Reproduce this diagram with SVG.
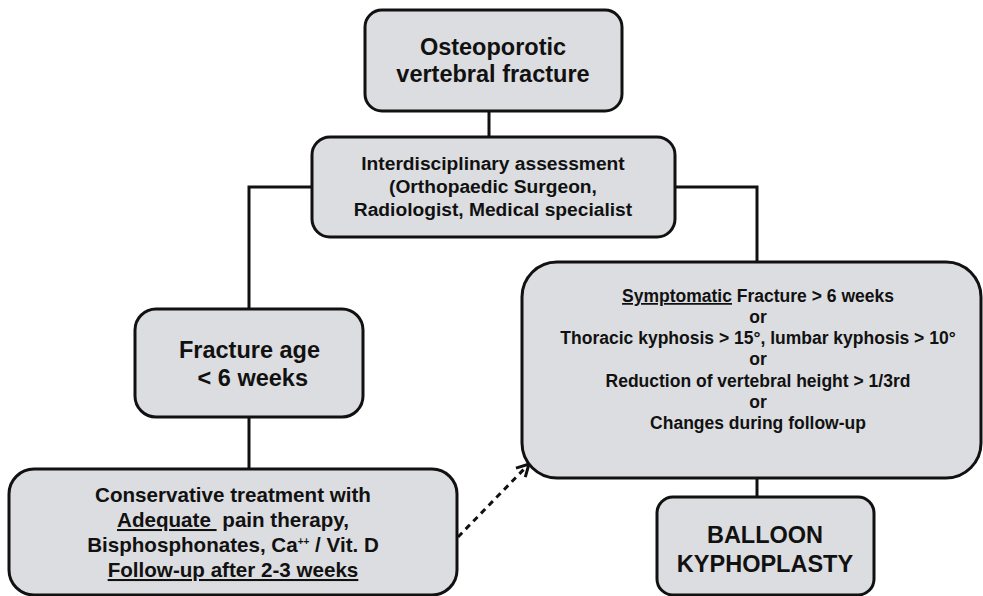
<svg xmlns="http://www.w3.org/2000/svg" width="983" height="596" viewBox="0 0 983 596">
<style>
.box{fill:#dcdde0;stroke:#111;stroke-width:3}
.t{font-family:"Liberation Sans",Arial,sans-serif;font-weight:bold;fill:#111;text-anchor:middle;white-space:pre}
.big{font-size:23.5px}
.mid{font-size:19.2px}
.med{font-size:20.6px}
.sm{font-size:17.5px}
.u{text-decoration:underline}
.c{fill:none;stroke:#111;stroke-width:3}
.d{fill:none;stroke:#111;stroke-width:3;stroke-dasharray:6 5}
</style>
<defs>
<marker id="open" markerWidth="16" markerHeight="16" refX="13" refY="8" orient="auto" markerUnits="userSpaceOnUse">
<path d="M1,1.5 L13,8 L1,14.5" fill="none" stroke="#111" stroke-width="3"/>
</marker>
</defs>
<g id="connectors">
<line class="c" x1="489" y1="111" x2="489" y2="137"/>
<polyline class="c" points="312,187 249,187 249,309"/>
<polyline class="c" points="675,187 757,187 757,262"/>
<line class="c" x1="249" y1="417" x2="249" y2="469"/>
<line class="c" x1="757" y1="478" x2="757" y2="497"/>
<line class="d" x1="458" y1="537" x2="529" y2="464" marker-end="url(#open)"/>
</g>
<g id="n1">
<rect class="box" x="365" y="10" width="257" height="101" rx="17"/>
<text class="t big" x="493" y="55">Osteoporotic</text>
<text class="t big" x="493" y="82">vertebral fracture</text>
</g>
<g id="n2">
<rect class="box" x="312" y="137" width="363" height="100" rx="18"/>
<text class="t mid" x="493" y="170">Interdisciplinary assessment</text>
<text class="t mid" x="493" y="193">(Orthopaedic Surgeon,</text>
<text class="t mid" x="493" y="216">Radiologist, Medical specialist</text>
</g>
<g id="n3">
<rect class="box" x="135" y="309" width="228" height="108" rx="21"/>
<text class="t big" x="249.5" y="358">Fracture age</text>
<text class="t big" x="249.5" y="386" xml:space="preserve"> &lt; 6 weeks</text>
</g>
<g id="n4">
<rect class="box" x="9" y="469" width="448" height="126" rx="25"/>
<text class="t med" x="233" y="502">Conservative treatment with</text>
<text class="t med" x="233" y="527" xml:space="preserve"><tspan class="u">Adequate </tspan> pain therapy,</text>
<text class="t med" x="233" y="552">Bisphosphonates, Ca<tspan font-size="10" dy="-7">++</tspan><tspan dy="7"> / Vit. D</tspan></text>
<text class="t med u" x="233" y="577">Follow-up after 2-3 weeks</text>
</g>
<g id="n5">
<rect class="box" x="522" y="262" width="459" height="216" rx="35"/>
<text class="t sm" x="758" y="302"><tspan class="u">Symptomatic</tspan> Fracture &gt; 6 weeks</text>
<text class="t sm" x="758" y="323">or</text>
<text class="t sm" x="758" y="344">Thoracic kyphosis &gt; 15°, lumbar kyphosis &gt; 10°</text>
<text class="t sm" x="758" y="365">or</text>
<text class="t sm" x="758" y="387">Reduction of vertebral height &gt; 1/3rd</text>
<text class="t sm" x="758" y="408">or</text>
<text class="t sm" x="758" y="429">Changes during follow-up</text>
</g>
<g id="n6">
<rect class="box" x="657" y="497" width="217" height="98" rx="16"/>
<text class="t big" x="765" y="543">BALLOON</text>
<text class="t big" x="765" y="572">KYPHOPLASTY</text>
</g>
</svg>
